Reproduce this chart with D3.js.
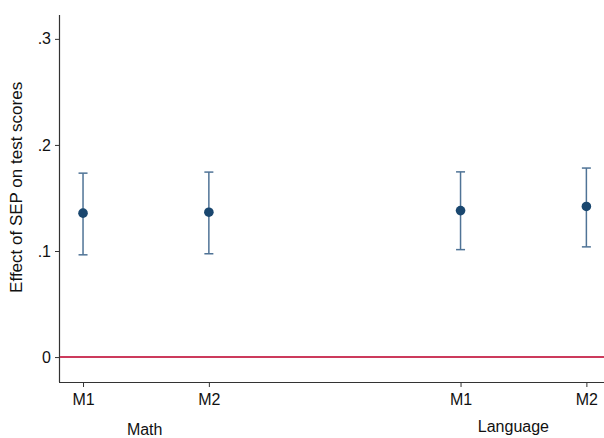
<!DOCTYPE html>
<html>
<head>
<meta charset="utf-8">
<script src="https://cdn.jsdelivr.net/npm/d3@7"></script>
<style>
  body { margin: 0; background: #fff; }
  svg text { font-family: "Liberation Sans", Arial, sans-serif; fill: #111; }
</style>
</head>
<body>
<svg id="chart" width="604" height="438"></svg>
<script>
// data
const models = ['M1', 'M2', 'M1', 'M2'];
const positions = [1, 2, 4, 5];
const estimates = [0.1357, 0.1366, 0.1381, 0.1420];
const ciLow = [0.0964, 0.0974, 0.1013, 0.1039];
const ciHigh = [0.1734, 0.1744, 0.1746, 0.1782];
const groups = ['Math', 'Language'];
const groupPos = [1.49, 4.42];
const yTicks = [0, 0.1, 0.2, 0.3];

const margin = {top: 15, right: 0, bottom: 56, left: 60};
const width = 604, height = 438;
const svg = d3.select('#chart');

const x = d3.scaleLinear().domain([0.817, 5.14]).range([margin.left, width]);
const y = d3.scaleLinear().domain([-0.0235, 0.3225]).range([height - margin.bottom, margin.top]);

const yAxis = d3.axisLeft(y).tickValues(yTicks)
  .tickFormat(d => d === 0 ? '0' : d3.format('.1f')(d).replace(/^0/, ''))
  .tickSize(5).tickPadding(4);
const gy = svg.append('g').attr('transform', `translate(${margin.left},0)`).call(yAxis);
gy.select('.domain').attr('stroke', '#333').attr('stroke-width', 1.2).attr('d', `M-0.5,${y.range()[1]}V${y.range()[0]}`);
gy.selectAll('.tick line').attr('stroke', '#333');
gy.selectAll('.tick text').style('font-size', '16px');

const xAxis = d3.axisBottom(x).tickValues(positions)
  .tickFormat((d, i) => models[i]).tickSize(5).tickPadding(7);
const gx = svg.append('g').attr('transform', `translate(0,${height - margin.bottom})`).call(xAxis);
gx.select('.domain').attr('stroke', '#333').attr('stroke-width', 1.2).attr('d', `M${margin.left - 1},0.5H${width}`);
gx.selectAll('.tick line').attr('stroke', '#333');
gx.selectAll('.tick text').style('font-size', '16px');

// group labels
svg.selectAll('.group').data(groups).enter().append('text')
  .attr('x', (d, i) => x(groupPos[i]))
  .attr('y', (d, i) => i === 0 ? 435 : 432)
  .attr('text-anchor', 'middle')
  .style('font-size', '16px')
  .text(d => d);

// y title
svg.append('text')
  .attr('transform', `translate(22,${y(0.16)}) rotate(-90)`)
  .attr('text-anchor', 'middle')
  .style('font-size', '17px')
  .text('Effect of SEP on test scores');

// zero line
svg.append('line')
  .attr('x1', margin.left).attr('x2', width)
  .attr('y1', y(0)).attr('y2', y(0))
  .attr('stroke', '#cc3a5c').attr('stroke-width', 2);

// error bars
const bars = svg.append('g');
positions.forEach((p, i) => {
  const cx = x(p);
  bars.append('line').attr('x1', cx).attr('x2', cx)
    .attr('y1', y(ciLow[i])).attr('y2', y(ciHigh[i]))
    .attr('stroke', '#4f7396').attr('stroke-width', 1.5);
  [ciLow[i], ciHigh[i]].forEach(v => {
    bars.append('line').attr('x1', cx - 4.5).attr('x2', cx + 4.5)
      .attr('y1', y(v)).attr('y2', y(v))
      .attr('stroke', '#4f7396').attr('stroke-width', 1.5);
  });
});

svg.selectAll('.pt').data(estimates).enter().append('circle')
  .attr('cx', (d, i) => x(positions[i]))
  .attr('cy', d => y(d))
  .attr('r', 4.8)
  .attr('fill', '#1a476f');
</script>
</body>
</html>
